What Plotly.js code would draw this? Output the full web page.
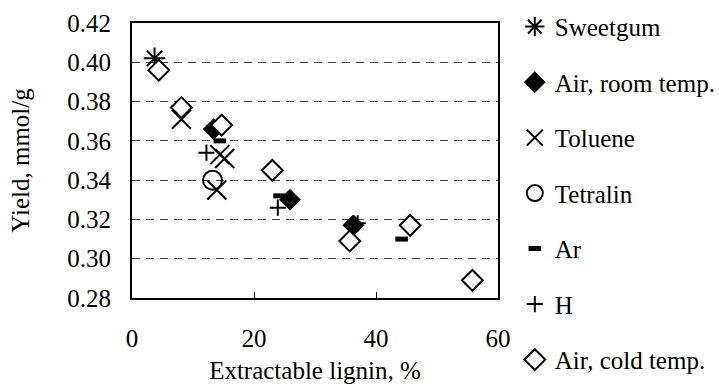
<!DOCTYPE html>
<html>
<head>
<meta charset="utf-8">
<script src="https://cdn.plot.ly/plotly-3.0.1.min.js"></script>
<style>
html,body{margin:0;padding:0;background:#fff;}
#chart{width:719px;height:387px;}
</style>
</head>
<body>
<div id="chart"></div>
<script>
var sweetgumX = [3.7];
var sweetgumY = [0.402];
var airRoomX = [13.4, 25.9, 36.3];
var airRoomY = [0.366, 0.330, 0.317];
var tolueneX = [8.1, 14.4, 15.2, 13.9];
var tolueneY = [0.371, 0.353, 0.351, 0.335];
var tetralinX = [13.2];
var tetralinY = [0.340];
var arX = [14.4, 24.2, 44.2];
var arY = [0.360, 0.332, 0.310];
var hX = [12.2, 23.9, 37.0];
var hY = [0.354, 0.326, 0.318];
var airColdX = [4.4, 8.1, 14.7, 23.0, 35.7, 45.6, 55.8];
var airColdY = [0.396, 0.377, 0.368, 0.345, 0.309, 0.317, 0.289];
var seriesNames = ['Sweetgum', 'Air, room temp.', 'Toluene', 'Tetralin', 'Ar', 'H', 'Air, cold temp.'];
var xTicks = [0, 20, 40, 60];
var yTicks = [0.28, 0.30, 0.32, 0.34, 0.36, 0.38, 0.40, 0.42];

function tr(i, x, y, marker) {
  return {type: 'scatter', mode: 'markers', name: seriesNames[i], x: x, y: y,
    marker: marker, legendgroup: 'g' + i, cliponaxis: false};
}
var lw = 2;
var data = [
  tr(0, sweetgumX, sweetgumY, {symbol: 'asterisk-open', size: 18, color: '#000', line: {color: '#000', width: lw}}),
  tr(1, airRoomX, airRoomY, {symbol: 'diamond', size: 16, color: '#000', line: {color: '#000', width: 1}}),
  tr(2, tolueneX, tolueneY, {symbol: 'x-thin-open', size: 19, color: '#000', line: {color: '#000', width: lw}}),
  tr(3, tetralinX, tetralinY, {symbol: 'circle-open', size: 19, color: '#000', line: {color: '#000', width: lw}}),
  tr(4, arX, arY, {symbol: 'line-ew-open', size: 9, color: '#000', line: {color: '#000', width: 5}}),
  tr(5, hX, hY, {symbol: 'cross-thin-open', size: 11.5, color: '#000', line: {color: '#000', width: lw}}),
  tr(6, airColdX, airColdY, {symbol: 'diamond', size: 16, color: '#fff', line: {color: '#000', width: lw}})
];
var FAM = "'Liberation Serif', 'Times New Roman', serif";
function F(s) { return {family: FAM, size: s, color: '#000'}; }
var FS = 25;
var layout = {
  width: 719, height: 387,
  margin: {l: 132, r: 221, t: 23, b: 89},
  paper_bgcolor: '#fff', plot_bgcolor: '#fff',
  font: F(FS),
  showlegend: true,
  legend: {xref: 'container', yref: 'container', x: 0.716, y: 0.99, xanchor: 'left', yanchor: 'top',
    traceorder: 'grouped', tracegroupgap: 20, font: F(FS), itemwidth: 30, maxheight: 387,
    bgcolor: 'rgba(0,0,0,0)'},
  xaxis: {range: [0, 60], tickvals: xTicks, ticktext: xTicks.map(String), tickfont: F(FS),
    showgrid: false, zeroline: false, showline: true, linecolor: '#000', linewidth: 2, mirror: true,
    ticks: 'inside', ticklen: 6, tickwidth: 1, tickcolor: '#000', ticklabelstandoff: 17,
    title: {text: 'Extractable lignin, %', font: F(FS), standoff: 10}},
  yaxis: {range: [0.28, 0.42], tickvals: yTicks, ticktext: yTicks.map(function(v){return v.toFixed(2);}),
    tickfont: F(FS),
    showgrid: true, gridcolor: '#444', gridwidth: 1, griddash: '8px,6px', zeroline: false,
    showline: true, linecolor: '#000', linewidth: 2, mirror: true,
    ticks: '', ticklabelstandoff: 14,
    title: {text: 'Yield, mmol/g', font: F(FS), standoff: 31}}
};
Plotly.newPlot('chart', data, layout, {staticPlot: true, displayModeBar: false});
</script>
</body>
</html>
